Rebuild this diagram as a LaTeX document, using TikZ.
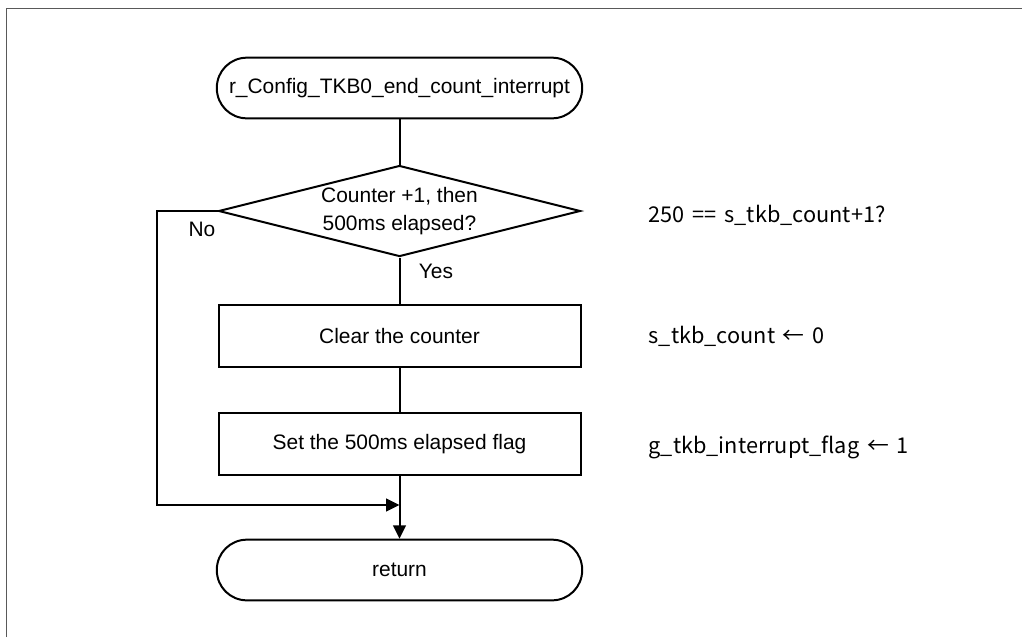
\documentclass[tikz,border=0pt]{standalone}
\usepackage{fontspec}
\setmainfont{Liberation Sans}
\newfontfamily\notefont[WordSpace={1.6}]{Noto Sans CJK JP}
\usetikzlibrary{arrows.meta, positioning, shapes.geometric}

\newcommand{\mainsize}{\fontsize{15.7}{21}\selectfont}
\newcommand{\notesize}{\notefont\fontsize{16.3}{19}\selectfont}

\tikzset{
  flowline/.style={line width=1.5pt, black},
  terminal/.style={draw, line width=1.5pt, rectangle, rounded corners=22.5pt,
    minimum width=274pt, minimum height=45.5pt, inner sep=0pt, font=\mainsize},
  process/.style={draw, line width=1.5pt, rectangle, minimum width=271.5pt,
    minimum height=46.5pt, font=\mainsize},
  decision/.style={draw, line width=1.5pt, diamond, aspect=4, inner sep=0pt,
    minimum width=271.5pt, minimum height=68.25pt, align=center, font=\mainsize},
  note/.style={anchor=west, font=\notesize},
  arrowtip/.style={-{Triangle[length=10pt,width=9.5pt]}}
}

\begin{document}
\begin{tikzpicture}[x=0.75pt, y=-0.75pt]
        \useasboundingbox (0,0) rectangle (1022,637);

        % Cadre (haut et gauche)
        \draw[black!65, line width=1.2pt] (6.5,637) -- (6.5,8.5) -- (1022,8.5);

        % --- Noeuds du flux ---
        \node[terminal] (start) at (399.5,88) {r\_Config\_TKB0\_end\_count\_interrupt};
        \node[decision] (check) at (399.5,211) {Counter +1, then\\500ms elapsed?};
        \node[process] (clear) at (399.5,336) {Clear the counter};
        \node[process] (setflag) at (399.5,444) {Set the 500ms elapsed flag};
        \node[terminal] (ret) at (399.5,570) {return};

        % --- Points de jonction ---
        \coordinate (merge) at (399.5,505);
        \coordinate (nocorner) at (157,505);

        % --- Liaisons ---
        \draw[flowline] (start) -- (check);
        \draw[flowline] (check) -- (clear);
        \draw[flowline] (clear) -- (setflag);
        \draw[flowline, arrowtip] (setflag) -- (ret);
        \draw[flowline, arrowtip] (check.west) -| (nocorner) -- (merge);

        % Branches
        \node[font=\mainsize] (nolabel) at (202,229) {No};
        \node[font=\mainsize] (yeslabel) at (436,271) {Yes};

        % --- Commentaires a droite ---
        \node[note] (note1) at (644,215) {250 == s\_tkb\_count+1?};
        \node[note] (note2) at (644,336) {s\_tkb\_count ← 0};
        \node[note] (note3) at (644,447) {g\_tkb\_interrupt\_flag ← 1};
    \end{tikzpicture}
\end{document}
